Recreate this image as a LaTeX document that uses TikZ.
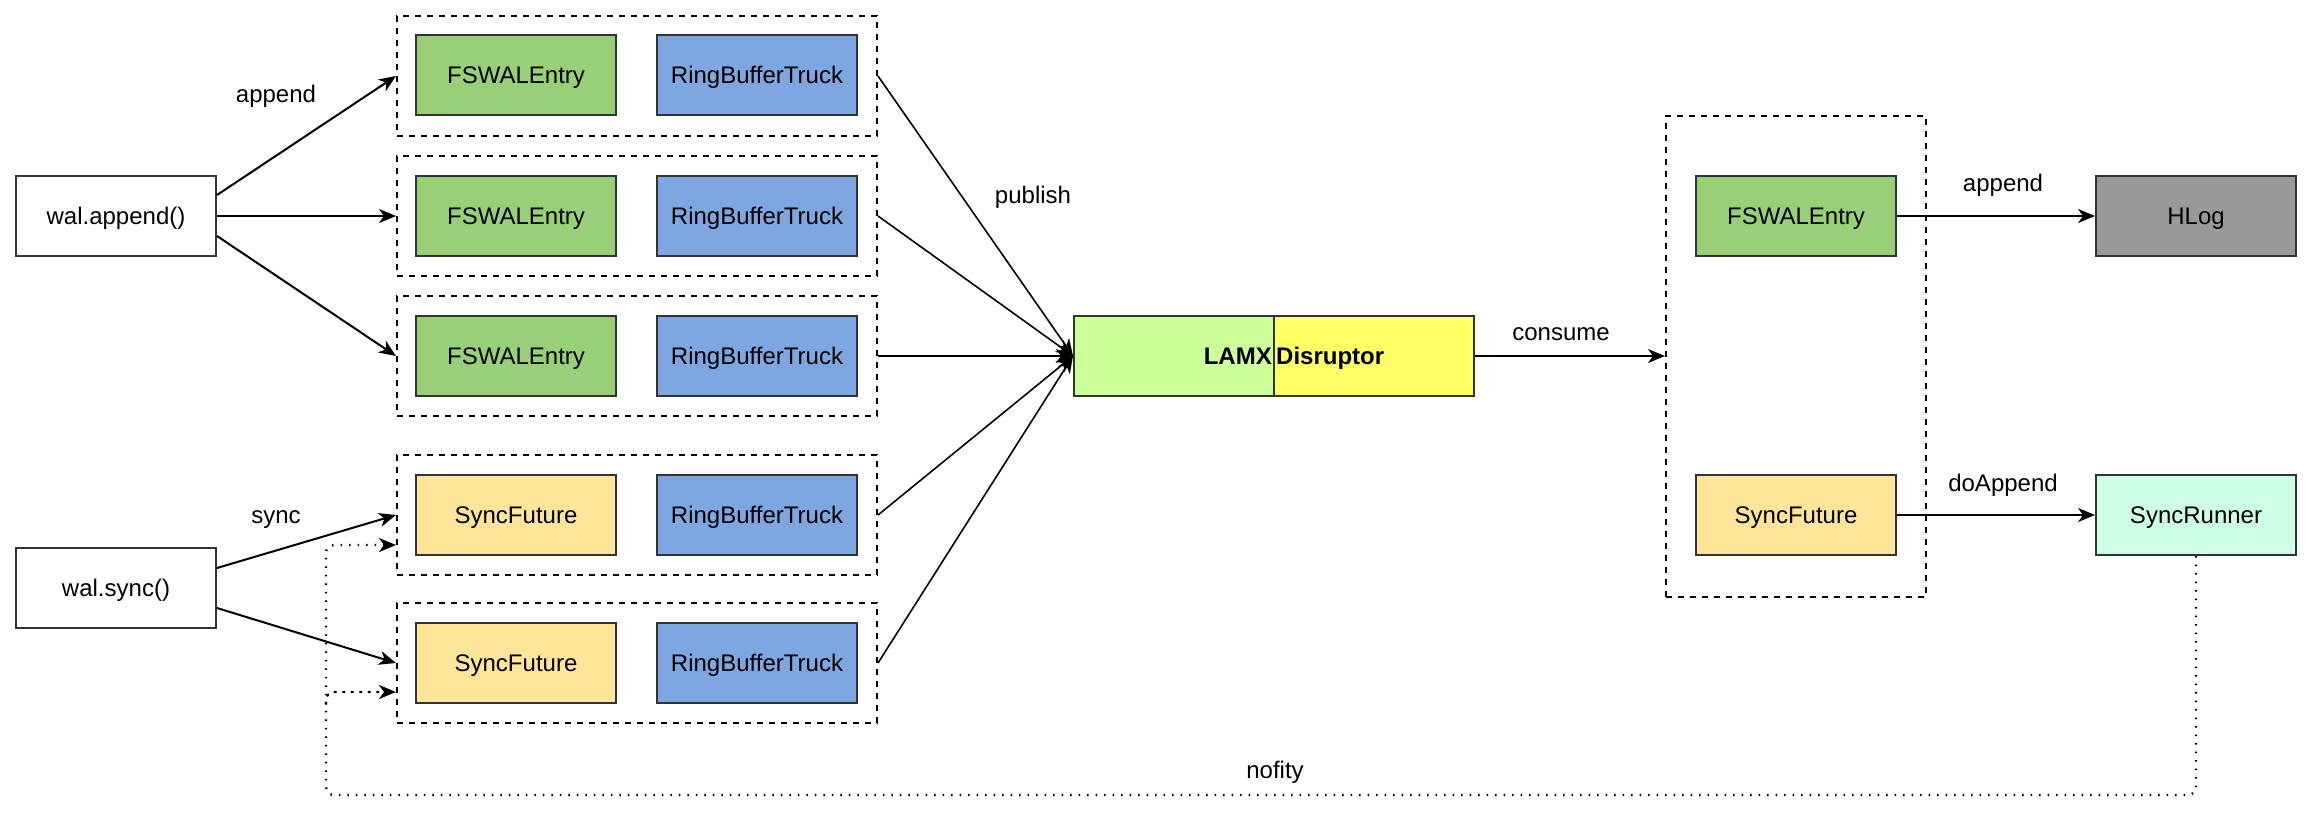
\documentclass[tikz,border=0pt]{standalone}
\usepackage{fontspec}
\setmainfont{Liberation Sans}
\usetikzlibrary{arrows.meta,calc}
\definecolor{bordc}{HTML}{333333}
\definecolor{fgreen}{HTML}{97D077}
\definecolor{fblue}{HTML}{7EA6E0}
\definecolor{fyellow}{HTML}{FFE599}
\definecolor{fgray}{HTML}{999999}
\definecolor{fmint}{HTML}{CCFFE6}
\definecolor{flamx}{HTML}{CCFF99}
\definecolor{fdis}{HTML}{FFFF66}
\tikzset{
  txt/.style={font=\fontsize{24}{28}\selectfont, text height=17.2pt, text depth=0pt},
  box/.style={draw=bordc, line width=2pt, minimum width=200pt, minimum height=80pt, inner sep=0pt, txt},
  grp/.style={draw=black, line width=2pt, dash pattern=on 6pt off 6pt, minimum width=480pt, minimum height=120pt, inner sep=0pt},
  arr/.style={draw=black, line width=2pt, -{Stealth[length=17pt,width=14pt,inset=5pt]}},
  lnk/.style={draw=black, line width=1.6pt, -{Stealth[length=17pt,width=14pt,inset=5pt]}},
  dotline/.style={draw=black, line width=2.4pt, dash pattern=on 1.5pt off 7pt, line cap=round, rounded corners=8pt},
  lbl/.style={txt, inner sep=0pt}
}
\begin{document}
\begin{tikzpicture}[x=1pt,y=-1pt]
\useasboundingbox (0,0) rectangle (2314,830);
% left sources
\node[box, fill=white] (app) at (116,216) {wal.append()};
\node[box, fill=white] (syn) at (116,588) {wal.sync()};
% groups
\node[grp] (g1) at (637,76) {};
\node[grp] (g2) at (637,216) {};
\node[grp] (g3) at (637,356) {};
\node[grp] (g4) at (637,515) {};
\node[grp] (g5) at (637,663) {};
\node[box, fill=fgreen] (e1) at (516,75) {FSWALEntry};
\node[box, fill=fblue] (r1) at (757,75) {RingBufferTruck};
\node[box, fill=fgreen] (e2) at (516,216) {FSWALEntry};
\node[box, fill=fblue] (r2) at (757,216) {RingBufferTruck};
\node[box, fill=fgreen] (e3) at (516,356) {FSWALEntry};
\node[box, fill=fblue] (r3) at (757,356) {RingBufferTruck};
\node[box, fill=fyellow] (s4) at (516,515) {SyncFuture};
\node[box, fill=fblue] (r4) at (757,515) {RingBufferTruck};
\node[box, fill=fyellow] (s5) at (516,663) {SyncFuture};
\node[box, fill=fblue] (r5) at (757,663) {RingBufferTruck};
% disruptor
\node[box, fill=flamx] (lamx) at (1174,356) {};
\node[box, fill=fdis] (dis) at (1374,356) {};
\node[lbl, font=\fontsize{24}{28}\selectfont\bfseries, anchor=east, inner xsep=3pt] (lamxt) at (lamx.east) {LAMX};
\node[lbl, font=\fontsize{24}{28}\selectfont\bfseries, anchor=west, inner xsep=3pt] (dist) at (dis.west) {Disruptor};
% right group
\node[grp, minimum width=260pt, minimum height=481pt] (rg) at (1796,356) {};
\node[box, fill=fgreen] (fe) at (1796,216) {FSWALEntry};
\node[box, fill=fyellow] (sf) at (1796,515) {SyncFuture};
\node[box, fill=fgray] (hlog) at (2196,216) {HLog};
\node[box, fill=fmint] (sr) at (2196,515) {SyncRunner};
% arrows from wal.append
\draw[arr] ([yshift=21pt]app.east) -- (g1.west);
\draw[arr] (app.east) -- (g2.west);
\draw[arr] ([yshift=-20pt]app.east) -- (g3.west);
% arrows from wal.sync
\draw[arr] ([yshift=20pt]syn.east) -- (g4.west);
\draw[arr] ([yshift=-20pt]syn.east) -- (g5.west);
% publish
\draw[lnk] (g1.east) -- (lamx.west);
\draw[lnk] (g2.east) -- (lamx.west);
\draw[lnk] (g3.east) -- (lamx.west);
\draw[lnk] (g4.east) -- (lamx.west);
\draw[lnk] (g5.east) -- (lamx.west);
% consume
\draw[lnk] (dis.east) -- (rg.west);
% right arrows
\draw[lnk] (fe.east) -- (hlog.west);
\draw[lnk] (sf.east) -- (sr.west);
% notify
\coordinate (nb) at (326,795);
\coordinate (nbr) at (2196,795);
\coordinate (nt) at (326,545);
\coordinate (nm) at (326,704);
\coordinate (nmc) at (326,692);
\draw[dotline, -{Stealth[length=17pt,width=14pt,inset=5pt]}, line cap=butt] (sr.south) -- (nbr) -- (nb) -- (nt) -- ([yshift=-30pt]g4.west);
\draw[dotline, -{Stealth[length=17pt,width=14pt,inset=5pt]}] (nm) -- (nmc) -- ([yshift=-29pt]g5.west);
% labels
\node[lbl] (lappend) at (276,94) {append};
\node[lbl] (lsync) at (276,515) {sync};
\node[lbl] (lpub) at (1033,195) {publish};
\node[lbl] (lcons) at (1561,332) {consume};
\node[lbl] (lapp2) at (2003,183) {append};
\node[lbl] (ldoapp) at (2003,483) {doAppend};
\node[lbl] (lnof) at (1275,770) {nofity};
\end{tikzpicture}
\end{document}
